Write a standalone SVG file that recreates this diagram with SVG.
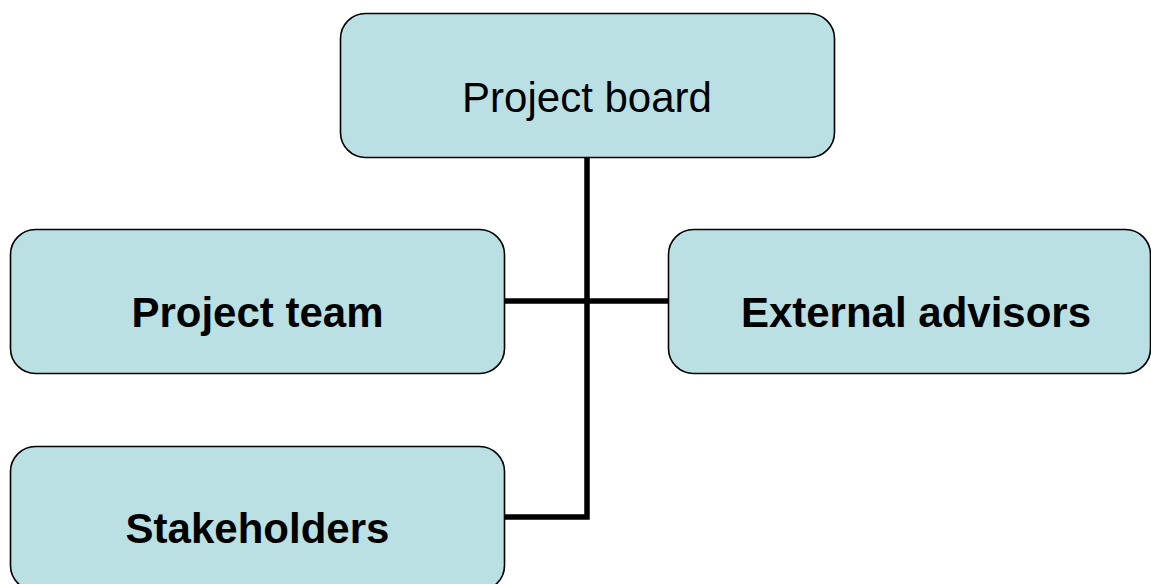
<svg xmlns="http://www.w3.org/2000/svg" width="1151" height="584" viewBox="0 0 1151 584">
<style>
.box{fill:#BBE0E3;stroke:#000;stroke-width:1.6}
.lbl{font-family:"Liberation Sans",Arial,sans-serif;font-size:42px;fill:#000;text-anchor:middle}
.b{font-weight:bold}
.conn{fill:none;stroke:#000;stroke-width:5.5}
</style>
<rect width="1151" height="584" fill="#fff"/>
<g id="connectors">
<path class="conn" d="M587,157 V517 H505"/>
<path class="conn" d="M505,301 H669"/>
</g>
<g id="project-board">
<rect class="box" x="340.5" y="13.5" width="494" height="144" rx="25"/>
<text class="lbl" x="587" y="112">Project board</text>
</g>
<g id="project-team">
<rect class="box" x="10.5" y="229.5" width="494" height="144" rx="25"/>
<text class="lbl b" x="257.5" y="327">Project team</text>
</g>
<g id="external-advisors">
<rect class="box" x="668.5" y="229.5" width="482" height="144" rx="25"/>
<text class="lbl b" x="916" y="327">External advisors</text>
</g>
<g id="stakeholders">
<rect class="box" x="10.5" y="446.5" width="494" height="144" rx="25"/>
<text class="lbl b" x="257.5" y="543">Stakeholders</text>
</g>
</svg>
